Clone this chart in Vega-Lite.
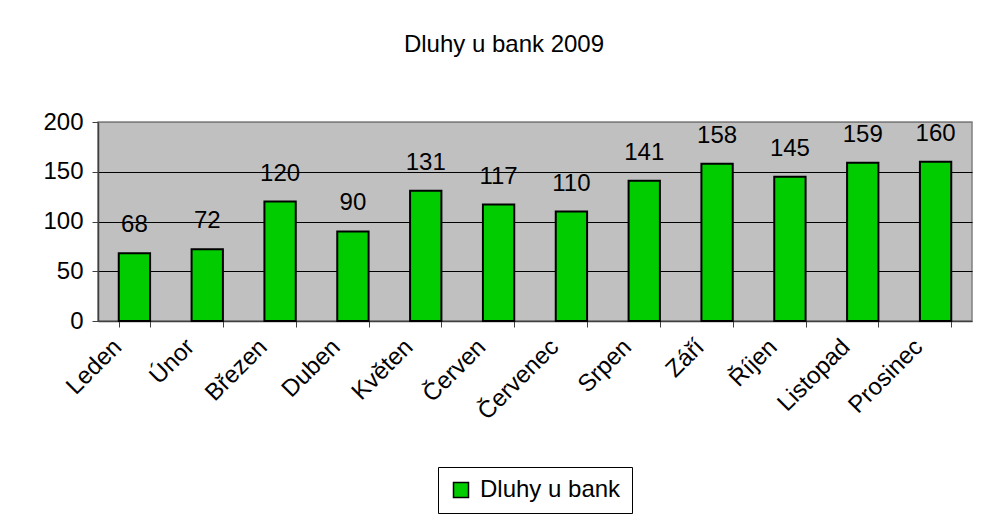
{
  "$schema": "https://vega.github.io/schema/vega-lite/v6.json",
  "autosize": {"type": "none"},
  "width": 874,
  "height": 199,
  "padding": {"left": 98, "top": 122, "right": 10, "bottom": 193},
  "background": "white",
  "title": {
    "text": "Dluhy u bank 2009",
    "font": "Liberation Sans",
    "fontSize": 24,
    "fontWeight": "normal",
    "color": "#000000",
    "anchor": "middle",
    "baseline": "alphabetic",
    "offset": 34,
    "dx": -31
  },
  "data": {
    "values": [
      {"mesic": "Leden", "hodnota": 68, "rada": "Dluhy u bank"},
      {"mesic": "Únor", "hodnota": 72, "rada": "Dluhy u bank"},
      {"mesic": "Březen", "hodnota": 120, "rada": "Dluhy u bank"},
      {"mesic": "Duben", "hodnota": 90, "rada": "Dluhy u bank"},
      {"mesic": "Květen", "hodnota": 131, "rada": "Dluhy u bank"},
      {"mesic": "Červen", "hodnota": 117, "rada": "Dluhy u bank"},
      {"mesic": "Červenec", "hodnota": 110, "rada": "Dluhy u bank"},
      {"mesic": "Srpen", "hodnota": 141, "rada": "Dluhy u bank"},
      {"mesic": "Září", "hodnota": 158, "rada": "Dluhy u bank"},
      {"mesic": "Říjen", "hodnota": 145, "rada": "Dluhy u bank"},
      {"mesic": "Listopad", "hodnota": 159, "rada": "Dluhy u bank"},
      {"mesic": "Prosinec", "hodnota": 160, "rada": "Dluhy u bank"}
    ]
  },
  "encoding": {
    "x": {
      "field": "mesic",
      "type": "nominal",
      "sort": null,
      "scale": {"paddingInner": 0.57, "paddingOuter": 0.285},
      "axis": {
        "title": null,
        "labelAngle": -45,
        "labelAlign": "right",
        "labelBaseline": "middle",
        "labelFont": "Liberation Sans",
        "labelFontSize": 24,
        "labelColor": "#000000",
        "labelPadding": 16,
        "labelOffset": -17,
        "tickBand": "extent",
        "tickSize": 6,
        "tickColor": "#404040",
        "domainColor": "#404040",
        "domainWidth": 1.5,
        "grid": false
      }
    },
    "y": {
      "field": "hodnota",
      "type": "quantitative",
      "scale": {"domain": [0, 200], "nice": false},
      "axis": {
        "title": null,
        "values": [0, 50, 100, 150, 200],
        "labelFont": "Liberation Sans",
        "labelFontSize": 24,
        "labelColor": "#000000",
        "labelPadding": 9,
        "tickSize": 6,
        "tickColor": "#404040",
        "domainColor": "#404040",
        "domainWidth": 1.5,
        "grid": true,
        "gridColor": {"condition": {"test": "datum.value == 200 || datum.value == 0", "value": "#808080"}, "value": "#000000"},
        "gridWidth": 1,
        "gridOpacity": 1
      }
    }
  },
  "layer": [
    {
      "mark": {"type": "bar", "stroke": "#000000", "strokeWidth": 2},
      "encoding": {
        "color": {
          "field": "rada",
          "type": "nominal",
          "scale": {"range": ["#00CC00"]},
          "legend": {
            "title": null,
            "orient": "none",
            "legendX": 340,
            "legendY": 345,
            "symbolType": "square",
            "symbolSize": 225,
            "symbolStrokeColor": "#000000",
            "symbolStrokeWidth": 1.5,
            "symbolFillColor": "#00CC00",
            "labelFont": "Liberation Sans",
            "labelFontSize": 24,
            "labelColor": "#000000",
            "labelOffset": 7,
            "padding": 11,
            "strokeColor": "#000000",
            "fillColor": "#FFFFFF"
          }
        }
      }
    },
    {
      "mark": {
        "type": "text",
        "font": "Liberation Sans",
        "fontSize": 24,
        "color": "#000000",
        "baseline": "alphabetic",
        "dy": -21
      },
      "encoding": {
        "text": {"field": "hodnota", "type": "quantitative"}
      }
    }
  ],
  "config": {
    "view": {"fill": "#C0C0C0", "stroke": "#808080", "strokeWidth": 1.5}
  }
}
